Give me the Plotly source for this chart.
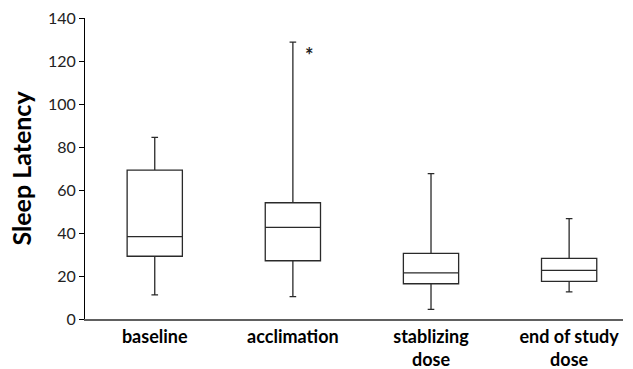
import plotly.graph_objects as go

categories = ["baseline", "acclimation", "stablizing<br>dose", "end of study<br>dose"]
lower = [11.2, 10.4, 4.5, 12.6]
q1 = [29.2, 27.1, 16.4, 17.5]
median = [38.3, 42.6, 21.5, 22.6]
q3 = [69.3, 54.1, 30.5, 28.2]
upper = [84.5, 128.8, 67.6, 46.7]
y_ticks = [0, 20, 40, 60, 80, 100, 120, 140]

fig = go.Figure()
fig.add_trace(go.Box(
    x=categories, q1=q1, median=median, q3=q3,
    lowerfence=lower, upperfence=upper,
    fillcolor="white", line=dict(color="#2a2a2a", width=1.3),
    width=0.4, whiskerwidth=0.12, boxpoints=False, showlegend=False,
    hoverinfo="skip",
))
fig.add_annotation(x=1, y=123, xshift=17, text="<b>*</b>", showarrow=False,
                   font=dict(family="Lato, Arial", size=20, color="#222"))

fig.update_layout(
    width=633, height=369,
    margin=dict(l=85, r=10, t=18, b=50),
    plot_bgcolor="white", paper_bgcolor="white",
    xaxis=dict(
        type="category", range=[-0.505, 3.39], automargin=False,
        showline=True, linecolor="#606060", linewidth=2,
        ticks="", showgrid=False, zeroline=False,
        tickfont=dict(family="Lato, Arial", size=18, color="black", weight="bold"),
    ),
    yaxis=dict(
        range=[0, 140.05], tickvals=y_ticks, automargin=False,
        showline=True, linecolor="black", linewidth=1,
        ticks="outside", ticklen=5, tickcolor="black",
        showgrid=False, zeroline=False,
        tickfont=dict(family="Lato, Arial", size=16, color="#222"),
        title=dict(text="Sleep Latency", standoff=9,
                   font=dict(family="Lato, Arial", size=25, color="black", weight="bold")),
    ),
)
fig.write_html("out.html", config={"displayModeBar": False},
               post_script="document.body.style.margin='0';")
